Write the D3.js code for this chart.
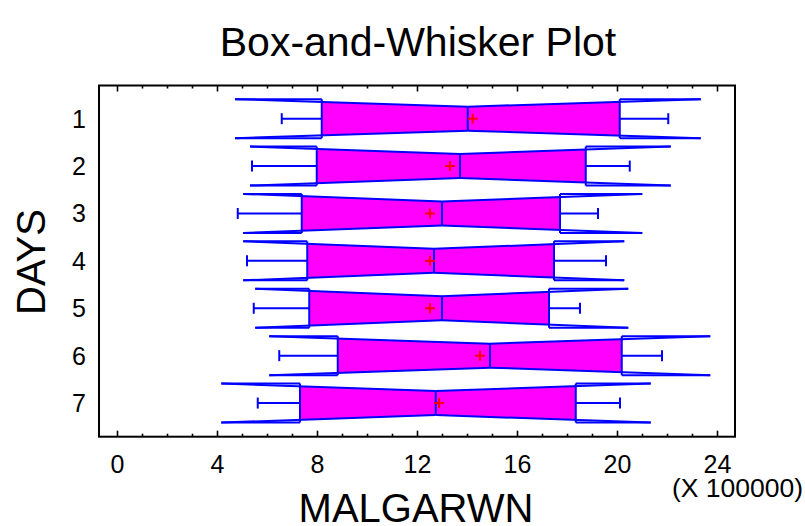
<!DOCTYPE html>
<html>
<head>
<meta charset="utf-8">
<script src="https://cdn.jsdelivr.net/npm/d3@7"></script>
<style>
  html, body { margin: 0; padding: 0; background: #ffffff; }
  svg { display: block; font-family: "Liberation Sans", Arial, sans-serif; }
</style>
</head>
<body>
<svg id="chart" width="805" height="526"></svg>
<script>
// ---- data (MALGARWN values) ----
const categories  = ["1", "2", "3", "4", "5", "6", "7"];
const whiskerLow  = [657000, 538000, 481000, 518000, 545000, 647000, 561000];
const q1          = [817000, 797000, 737000, 759000, 767000, 881000, 730000];
const median      = [1401000, 1370000, 1298000, 1266000, 1298000, 1490000, 1273000];
const q3          = [2009000, 1873000, 1770000, 1746000, 1726000, 2017000, 1833000];
const whiskerHigh = [2203000, 2049000, 1922000, 1954000, 1850000, 2178000, 2010000];
const means       = [1421000, 1330000, 1250000, 1250000, 1250000, 1450000, 1286000];
const notchLow    = [470000, 530000, 503000, 503000, 551000, 607000, 415000];
const notchHigh   = [2333000, 2213000, 2099000, 2027000, 2043000, 2371000, 2133000];
const xMajorTicks = [0, 400000, 800000, 1200000, 1600000, 2000000, 2400000];
const xMinorTicks = d3.range(0, 2400001, 100000);

const rows = categories.map((c, i) => ({
  cat: c, pos: i + 1,
  wlo: whiskerLow[i], q1: q1[i], med: median[i], q3: q3[i], whi: whiskerHigh[i],
  mean: means[i], nlo: notchLow[i], nhi: notchHigh[i]
}));

const svg = d3.select("#chart");
const pLeft = 99, pRight = 735, pTop = 85.5, pBottom = 436.7;

const x = d3.scaleLinear().domain([-74000, 2470000]).range([pLeft, pRight]);
const y = d3.scaleLinear().domain([0.3, 7.71]).range([pTop, pBottom]);

const blue = "#0000ff", magenta = "#ff00ff", red = "#ff0000";
const H = 19.5, h = 12, cap = 5.5, plus = 5;

// title
svg.append("text").attr("x", 418).attr("y", 56).attr("text-anchor", "middle")
  .attr("font-size", 41).text("Box-and-Whisker Plot");

// boxes
const g = svg.append("g");
rows.forEach(r => {
  const c = y(r.pos);
  const half = v => {
    const d = v < r.med ? (r.med - v) / (r.med - r.nlo) : (v - r.med) / (r.nhi - r.med);
    return h + (H - h) * Math.min(1, d);
  };
  const pts = [
    [x(r.q1), c - half(r.q1)], [x(r.med), c - h], [x(r.q3), c - half(r.q3)],
    [x(r.q3), c + half(r.q3)], [x(r.med), c + h], [x(r.q1), c + half(r.q1)]
  ];
  g.append("polygon").attr("points", pts.map(p => p.join(",")).join(" "))
    .attr("fill", magenta).attr("stroke", "none");

  const line = (x1, y1, x2, y2, col) => g.append("line")
    .attr("x1", x1).attr("y1", y1).attr("x2", x2).attr("y2", y2)
    .attr("stroke", col || blue).attr("stroke-width", 2);

  [-1, 1].forEach(s => {
    line(x(r.nlo), c + s * H, x(r.med), c + s * h);
    line(x(r.med), c + s * h, x(r.nhi), c + s * H);
    line(x(r.nlo), c + s * H, x(r.q1), c + s * H);
    line(x(r.q3), c + s * H, x(r.nhi), c + s * H);
  });
  line(x(r.q1), c - H, x(r.q1), c + H);
  line(x(r.q3), c - H, x(r.q3), c + H);
  line(x(r.med), c - h, x(r.med), c + h);
  line(x(r.wlo), c, x(r.q1), c);
  line(x(r.wlo), c - cap, x(r.wlo), c + cap);
  line(x(r.q3), c, x(r.whi), c);
  line(x(r.whi), c - cap, x(r.whi), c + cap);
  line(x(r.mean) - plus, c, x(r.mean) + plus, c, red);
  line(x(r.mean), c - plus, x(r.mean), c + plus, red);
});

// axes ticks (inward)
const ticks = svg.append("g").attr("stroke", "#000").attr("stroke-width", 1.6);
xMinorTicks.forEach(v => {
  const major = xMajorTicks.includes(v);
  const len = major ? 6 : 3;
  ticks.append("line").attr("x1", x(v)).attr("x2", x(v)).attr("y1", pBottom).attr("y2", pBottom - len);
  ticks.append("line").attr("x1", x(v)).attr("x2", x(v)).attr("y1", pTop).attr("y2", pTop + len);
});

// frame
svg.append("rect").attr("x", pLeft).attr("y", pTop).attr("width", pRight - pLeft).attr("height", pBottom - pTop)
  .attr("fill", "none").attr("stroke", "#000").attr("stroke-width", 2);

// x tick labels
svg.append("g").selectAll("text").data(xMajorTicks).join("text")
  .attr("x", d => x(d)).attr("y", 473).attr("text-anchor", "middle")
  .attr("font-size", 25).text(d => d / 100000);
svg.append("text").attr("x", 803).attr("y", 497).attr("text-anchor", "end")
  .attr("font-size", 26.5).text("(X 100000)");

// y labels
svg.append("g").selectAll("text").data(rows).join("text")
  .attr("x", 86).attr("y", d => y(d.pos) + 9).attr("text-anchor", "end")
  .attr("font-size", 25).text(d => d.cat);

// axis titles
svg.append("text").attr("x", 416).attr("y", 522).attr("text-anchor", "middle")
  .attr("font-size", 40).text("MALGARWN");
svg.append("text").attr("transform", "translate(45,262) rotate(-90)").attr("text-anchor", "middle")
  .attr("font-size", 40).text("DAYS");
</script>
</body>
</html>
